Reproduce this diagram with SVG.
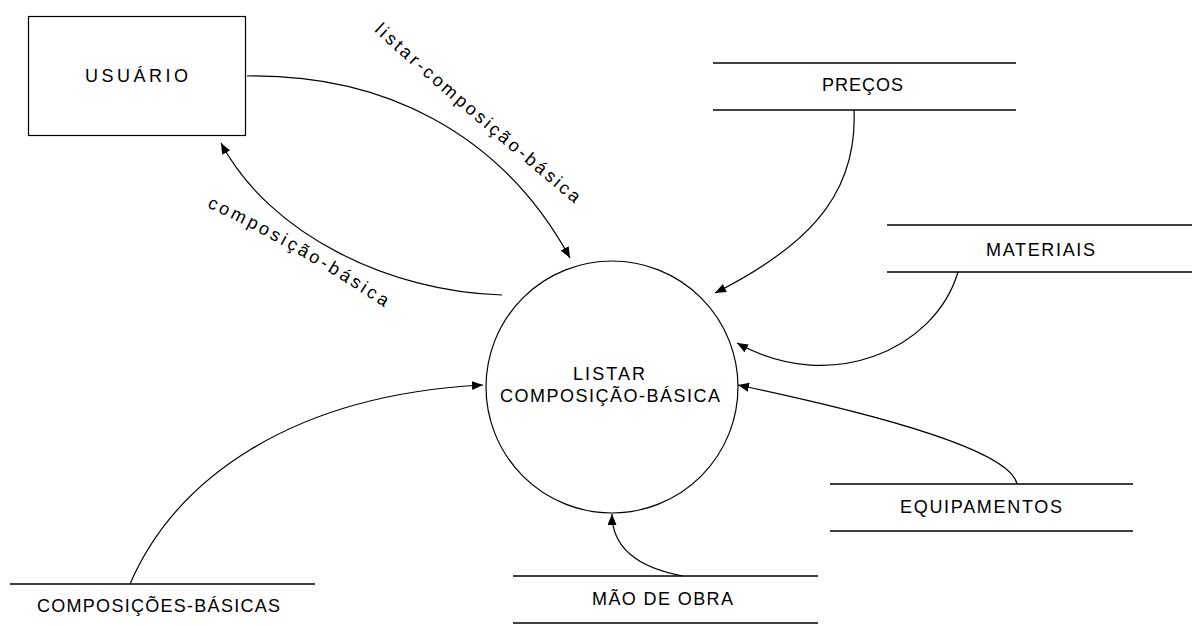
<svg xmlns="http://www.w3.org/2000/svg" width="1192" height="626" viewBox="0 0 1192 626">
  <style>
    .shape { fill: none; stroke: #000; stroke-width: 1.2; }
    .store { fill: none; stroke: #000; stroke-width: 1.6; }
    .lbl { font-family: "Liberation Sans", Arial, sans-serif; font-size: 18px; fill: #000; }
    .flow { fill: none; stroke: #000; stroke-width: 1.2; marker-end: url(#arrow); }
    .flowlbl { font-family: "Liberation Sans", Arial, sans-serif; font-size: 18px; fill: #000; }
  </style>
  <defs>
    <marker id="arrow" markerUnits="userSpaceOnUse" markerWidth="12" markerHeight="10" refX="11" refY="4.5" orient="auto">
      <path d="M0,0 L11,4.5 L0,9 z" fill="#000"/>
    </marker>
    <path id="lp1" d="M374,31 Q 440,92 582,210"/>
    <path id="lp2" d="M207,207 Q 290,245 390,311"/>
  </defs>
  <rect width="1192" height="626" fill="#fff"/>

  <g id="usuario">
    <rect class="shape" x="28.5" y="16.5" width="217" height="119"/>
    <text class="lbl" x="85" y="82" textLength="103" lengthAdjust="spacing">USUÁRIO</text>
  </g>

  <g id="processo">
    <circle class="shape" cx="612" cy="387" r="126"/>
    <text class="lbl" x="573" y="380" textLength="72" lengthAdjust="spacing">LISTAR</text>
    <text class="lbl" x="500" y="402" textLength="220" lengthAdjust="spacing">COMPOSIÇÃO-BÁSICA</text>
  </g>

  <g id="precos">
    <line class="store" x1="713" y1="63" x2="1016" y2="63"/>
    <line class="store" x1="713" y1="110" x2="1016" y2="110"/>
    <text class="lbl" x="822" y="91" textLength="81" lengthAdjust="spacing">PREÇOS</text>
  </g>

  <g id="materiais">
    <line class="store" x1="887" y1="225" x2="1192" y2="225"/>
    <line class="store" x1="887" y1="272" x2="1192" y2="272"/>
    <text class="lbl" x="986" y="256" textLength="109" lengthAdjust="spacing">MATERIAIS</text>
  </g>

  <g id="equipamentos">
    <line class="store" x1="830" y1="484" x2="1133" y2="484"/>
    <line class="store" x1="830" y1="531" x2="1133" y2="531"/>
    <text class="lbl" x="900" y="513" textLength="162" lengthAdjust="spacing">EQUIPAMENTOS</text>
  </g>

  <g id="mao-de-obra">
    <line class="store" x1="513" y1="576" x2="818" y2="576"/>
    <line class="store" x1="513" y1="623" x2="818" y2="623"/>
    <text class="lbl" x="592" y="605" textLength="141" lengthAdjust="spacing">MÃO DE OBRA</text>
  </g>

  <g id="composicoes-basicas">
    <line class="store" x1="10" y1="584" x2="315" y2="584"/>
    <text class="lbl" x="37" y="612" textLength="243" lengthAdjust="spacing">COMPOSIÇÕES-BÁSICAS</text>
  </g>

  <g id="connectors">
    <path class="flow" d="M247,76 C 380,74 500,130 570,258"/>
    <path class="flow" d="M502,295 C 390,292 270,235 221,143"/>
    <path class="flow" d="M854,110 C 858,200 800,250 715,293"/>
    <path class="flow" d="M958,272 C 935,350 830,395 737,343"/>
    <path class="flow" d="M1017,484 C 1010,450 880,415 738,385"/>
    <path class="flow" d="M683,576 C 640,568 612,550 612,514"/>
    <path class="flow" d="M130,584 C 175,480 290,395 483,385"/>
    <text class="flowlbl" letter-spacing="2.9"><textPath href="#lp1">listar-composição-básica</textPath></text>
    <text class="flowlbl" letter-spacing="3.1"><textPath href="#lp2">composição-básica</textPath></text>
  </g>
</svg>
